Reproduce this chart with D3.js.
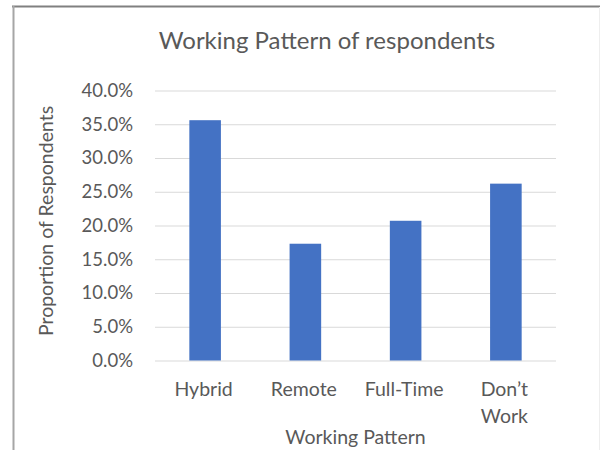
<!DOCTYPE html>
<html>
<head>
<meta charset="utf-8">
<script src="https://cdn.jsdelivr.net/npm/d3@7"></script>
<style>
  html, body { margin: 0; padding: 0; background: #fff; }
  svg { display: block; }
  text { font-family: Lato, "Open Sans", sans-serif; fill: #595959; }
</style>
</head>
<body>
<svg id="chart" width="600" height="450"></svg>
<script>
// Working pattern shares
const categories = ["Hybrid", "Remote", "Full-Time", "Don\u2019t Work"];
const shares = [0.356, 0.173, 0.207, 0.262];
const yTicks = [0, 0.05, 0.10, 0.15, 0.20, 0.25, 0.30, 0.35, 0.40];
const chartTitle = "Working Pattern of respondents";
const xTitle = "Working Pattern";
const yTitle = "Proportion of Respondents";

const svg = d3.select("#chart");
const plot = { left: 155, right: 556, top: 90.5, bottom: 360.5 };

const x = d3.scaleBand()
  .domain(categories)
  .range([plot.left, plot.right])
  .paddingInner(0.685)
  .paddingOuter(0.3425);

const y = d3.scaleLinear()
  .domain([0, 0.4])
  .range([plot.bottom, plot.top]);

// chart frame
svg.append("line").attr("x1", 12).attr("x2", 600).attr("y1", 6.5).attr("y2", 6.5)
  .attr("stroke", "#808080").attr("stroke-width", 2);
svg.append("line").attr("x1", 13.5).attr("x2", 13.5).attr("y1", 6).attr("y2", 450)
  .attr("stroke", "#a6a6a6").attr("stroke-width", 2);
svg.append("line").attr("x1", 599.5).attr("x2", 599.5).attr("y1", 7).attr("y2", 450)
  .attr("stroke", "#eeeeee").attr("stroke-width", 1);

// gridlines and value labels via a left axis
const yAxis = d3.axisLeft(y)
  .tickValues(yTicks)
  .tickFormat(d3.format(".1%"))
  .tickSize(-(plot.right - plot.left))
  .tickPadding(22);

const gy = svg.append("g")
  .attr("transform", `translate(${plot.left},0)`)
  .call(yAxis);
gy.select(".domain").remove();
gy.selectAll(".tick line").attr("stroke", "#d9d9d9").attr("stroke-width", 1.2);
gy.selectAll(".tick text")
  .attr("font-size", 18.5)
  .attr("fill", "#595959")
  .style("font-family", "Lato, 'Open Sans', sans-serif");

// bars
svg.append("g").selectAll("rect")
  .data(categories)
  .join("rect")
  .attr("x", d => x(d))
  .attr("width", x.bandwidth())
  .attr("y", (d, i) => y(shares[i]))
  .attr("height", (d, i) => y(0) - y(shares[i]))
  .attr("fill", "#4472c4");

// category labels (wrapped on spaces when the label is long)
const catG = svg.append("g");
categories.forEach(c => {
  const lines = c.length > 8 ? c.split(" ") : [c];
  const t = catG.append("text")
    .attr("text-anchor", "middle")
    .attr("font-size", 19.5)
    .attr("x", x(c) + x.bandwidth() / 2)
    .attr("y", 396);
  lines.forEach((ln, k) => {
    t.append("tspan")
      .attr("x", x(c) + x.bandwidth() / 2 - 1.5)
      .attr("dy", k === 0 ? 0 : 26.5)
      .text(ln);
  });
});

// axis titles
svg.append("text")
  .attr("text-anchor", "middle")
  .attr("font-size", 19.5)
  .attr("x", (plot.left + plot.right) / 2)
  .attr("y", 444)
  .text(xTitle);

svg.append("text")
  .attr("text-anchor", "middle")
  .attr("font-size", 19.5)
  .attr("transform", "translate(53,221) rotate(-90)")
  .text(yTitle);

// chart title
svg.append("text")
  .attr("text-anchor", "middle")
  .attr("font-size", 24)
  .attr("x", 327)
  .attr("y", 48.5)
  .text(chartTitle);
</script>
</body>
</html>
